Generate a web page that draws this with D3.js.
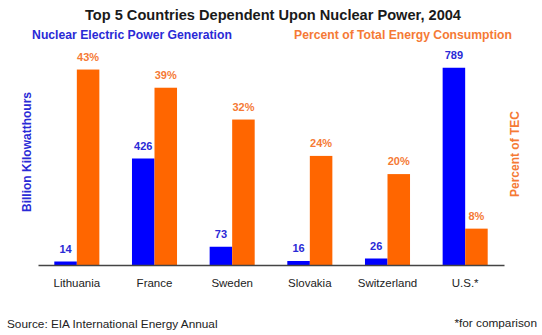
<!DOCTYPE html>
<html>
<head>
<meta charset="utf-8">
<script src="https://cdn.jsdelivr.net/npm/d3@7/dist/d3.min.js"></script>
<style>
  html, body { margin: 0; padding: 0; background: #fff; }
  svg { display: block; font-family: Arial, "Liberation Sans", sans-serif; }
</style>
</head>
<body>
<div id="chart"></div>
<script>
// Data
const countries = ["Lithuania", "France", "Sweden", "Slovakia", "Switzerland", "U.S.*"];
const generation = [14, 426, 73, 16, 26, 789]; // billion kWh
const percentTEC = [43, 39, 32, 24, 20, 8]; // percent of total energy consumption

// Colours
const blueBar = "#0000ff";
const orangeBar = "#ff6600";
const blueText = "#2a2ad6";
const orangeText = "#f57a35";

const width = 542;
const height = 335;
const margin = { top: 65, right: 38, bottom: 70, left: 38 };

const svg = d3.select("#chart").append("svg")
  .attr("width", width)
  .attr("height", height);

// Scales
const xScale = d3.scaleBand()
  .domain(countries)
  .range([margin.left, width - margin.right])
  .padding(0);
const barWidth = xScale.bandwidth() * 0.29;

const yLeft = d3.scaleLinear().domain([0, 800]).range([height - margin.bottom, margin.top]);
const yRight = d3.scaleLinear().domain([0, 44]).range([height - margin.bottom, margin.top]);

const cx = (d) => xScale(d) + xScale.bandwidth() / 2;

// Title
svg.append("text")
  .attr("x", 273).attr("y", 20)
  .attr("text-anchor", "middle")
  .attr("font-size", "14.6px").attr("font-weight", "bold")
  .attr("fill", "#1a1a1a")
  .text("Top 5 Countries Dependent Upon Nuclear Power, 2004");

// Series headers
svg.append("text")
  .attr("x", 132).attr("y", 39)
  .attr("text-anchor", "middle")
  .attr("font-size", "12.2px").attr("font-weight", "bold")
  .attr("fill", blueText)
  .text("Nuclear Electric Power Generation");
svg.append("text")
  .attr("x", 403).attr("y", 39)
  .attr("text-anchor", "middle")
  .attr("font-size", "12.2px").attr("font-weight", "bold")
  .attr("fill", orangeText)
  .text("Percent of Total Energy Consumption");

// Axis titles
svg.append("text")
  .attr("transform", "translate(31, 152) rotate(-90)")
  .attr("text-anchor", "middle")
  .attr("font-size", "12px").attr("font-weight", "bold")
  .attr("fill", blueText)
  .text("Billion Kilowatthours");
svg.append("text")
  .attr("transform", "translate(519, 154) rotate(-90)")
  .attr("text-anchor", "middle")
  .attr("font-size", "12px").attr("font-weight", "bold")
  .attr("fill", orangeText)
  .text("Percent of TEC");

// Blue bars
svg.selectAll("rect.gen")
  .data(countries)
  .enter()
  .append("rect")
  .attr("class", "gen")
  .attr("x", (d) => cx(d) - barWidth)
  .attr("y", (d, i) => yLeft(generation[i]))
  .attr("width", barWidth)
  .attr("height", (d, i) => yLeft(0) - yLeft(generation[i]))
  .attr("fill", blueBar);

// Orange bars
svg.selectAll("rect.pct")
  .data(countries)
  .enter()
  .append("rect")
  .attr("class", "pct")
  .attr("x", (d) => cx(d))
  .attr("y", (d, i) => yRight(percentTEC[i]))
  .attr("width", barWidth)
  .attr("height", (d, i) => yRight(0) - yRight(percentTEC[i]))
  .attr("fill", orangeBar);

// Value labels
svg.selectAll("text.genlab")
  .data(countries)
  .enter()
  .append("text")
  .attr("class", "genlab")
  .attr("x", (d) => cx(d) - barWidth / 2)
  .attr("y", (d, i) => yLeft(generation[i]) - 9)
  .attr("text-anchor", "middle")
  .attr("font-size", "11px").attr("font-weight", "bold")
  .attr("fill", blueText)
  .text((d, i) => generation[i]);

svg.selectAll("text.pctlab")
  .data(countries)
  .enter()
  .append("text")
  .attr("class", "pctlab")
  .attr("x", (d) => cx(d) + barWidth / 2)
  .attr("y", (d, i) => yRight(percentTEC[i]) - 9)
  .attr("text-anchor", "middle")
  .attr("font-size", "11px").attr("font-weight", "bold")
  .attr("fill", orangeText)
  .text((d, i) => percentTEC[i] + "%");

// X axis
const xAxis = d3.axisBottom(xScale).tickSize(0).tickPadding(14);
const gx = svg.append("g")
  .attr("transform", `translate(0, ${height - margin.bottom})`)
  .call(xAxis);
gx.select(".domain").attr("stroke", "#444").attr("stroke-width", 1.5);
gx.selectAll("text")
  .attr("font-size", "11.5px")
  .attr("font-family", "Arial, 'Liberation Sans', sans-serif")
  .attr("fill", "#222");

// Footnotes
svg.append("text")
  .attr("x", 7).attr("y", 328)
  .attr("font-size", "11.8px")
  .attr("fill", "#222")
  .text("Source: EIA International Energy Annual");
svg.append("text")
  .attr("x", 537).attr("y", 327)
  .attr("text-anchor", "end")
  .attr("font-size", "11.8px")
  .attr("fill", "#222")
  .text("*for comparison");
</script>
</body>
</html>
